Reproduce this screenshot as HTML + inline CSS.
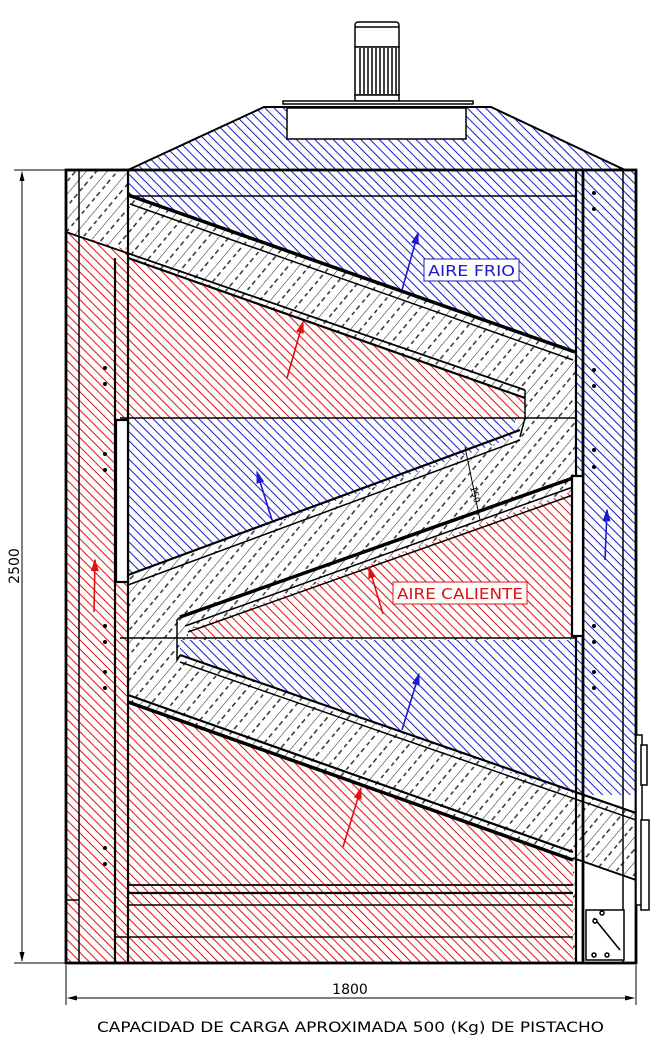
<!DOCTYPE html>
<html><head><meta charset="utf-8"><style>
html,body{margin:0;padding:0;background:#fff}
svg{display:block}
text{font-family:"DejaVu Sans","Liberation Sans",sans-serif}
</style></head><body>
<svg width="668" height="1040" viewBox="0 0 668 1040" xmlns="http://www.w3.org/2000/svg">
<defs>
<pattern id="red" width="6.5" height="6.5" patternUnits="userSpaceOnUse" patternTransform="rotate(-45)">
<rect width="6.5" height="6.5" fill="#fff"/><line x1="0" y1="0" x2="0" y2="6.5" stroke="#e01010" stroke-width="2"/></pattern>
<pattern id="blue" width="6.5" height="6.5" patternUnits="userSpaceOnUse" patternTransform="rotate(-45)">
<rect width="6.5" height="6.5" fill="#fff"/><line x1="0" y1="0" x2="0" y2="6.5" stroke="#1a1ad0" stroke-width="2"/></pattern>
<pattern id="gray" width="16" height="16" patternUnits="userSpaceOnUse" patternTransform="rotate(40)">
<rect width="16" height="16" fill="#fff"/><line x1="0" y1="0" x2="0" y2="16" stroke="#222" stroke-width="1"/>
<line x1="8" y1="3" x2="8" y2="8" stroke="#222" stroke-width="1.4"/><line x1="8" y1="11" x2="8" y2="15" stroke="#222" stroke-width="1.4"/></pattern>
<marker id="ab" markerWidth="8" markerHeight="8" refX="7" refY="4" orient="auto"><path d="M0,1.5 L8,4 L0,6.5z" fill="#1a1ad0"/></marker>
<marker id="ar" markerWidth="8" markerHeight="8" refX="7" refY="4" orient="auto"><path d="M0,1.5 L8,4 L0,6.5z" fill="#e01010"/></marker>
<marker id="ak" markerWidth="10" markerHeight="8" refX="9" refY="4" orient="auto"><path d="M0,1.5 L10,4 L0,6.5z" fill="#000"/></marker>
<marker id="aks" markerWidth="10" markerHeight="8" refX="1" refY="4" orient="auto"><path d="M10,1.5 L0,4 L10,6.5z" fill="#000"/></marker>
</defs>

<!-- motor -->
<rect x="355" y="22" width="44" height="6" rx="3" fill="#fff" stroke="#000" stroke-width="1.5"/>
<rect x="355" y="27" width="44" height="20" fill="#fff" stroke="#000" stroke-width="1.5"/>
<rect x="355" y="47" width="44" height="48" fill="#fff" stroke="#000" stroke-width="1.5"/>
<g stroke="#000" stroke-width="1.5">
<line x1="360" y1="48" x2="360" y2="94"/><line x1="364" y1="48" x2="364" y2="94"/><line x1="368" y1="48" x2="368" y2="94"/><line x1="372" y1="48" x2="372" y2="94"/><line x1="376" y1="48" x2="376" y2="94"/><line x1="380" y1="48" x2="380" y2="94"/><line x1="384" y1="48" x2="384" y2="94"/><line x1="388" y1="48" x2="388" y2="94"/><line x1="392" y1="48" x2="392" y2="94"/><line x1="396" y1="48" x2="396" y2="94"/></g>
<rect x="355" y="95" width="44" height="6" fill="#fff" stroke="#000" stroke-width="1.5"/>
<rect x="283" y="101" width="190" height="3" fill="#fff" stroke="#000" stroke-width="1.5"/>

<!-- hood -->
<polygon points="128,170 264,107 491,107 625,170" fill="url(#blue)" stroke="#000" stroke-width="2"/>
<rect x="287" y="108" width="179" height="31" fill="#fff" stroke="#000" stroke-width="1.5"/>

<rect x="128" y="170" width="448" height="793" fill="url(#gray)"/>
<polygon points="128,170 576,170 576,352 128,195" fill="url(#blue)"/>
<polygon points="128,258 525,398 525,418 128,418" fill="url(#red)"/>
<polygon points="128,418 515,418 515,437 128,575" fill="url(#blue)"/>
<polygon points="188,630 576,490 576,638 188,638" fill="url(#red)"/>
<polygon points="180,640 576,640 576,795 180,655" fill="url(#blue)"/>
<polygon points="128,700 573,860 573,963 128,963" fill="url(#red)"/>

<rect x="66" y="170" width="62" height="793" fill="url(#red)"/>
<polygon points="66,170 128,170 128,250 66,232" fill="url(#gray)"/>
<rect x="576" y="170" width="60" height="625" fill="url(#blue)"/>
<polygon points="573,792 636,813 636,880 573,858" fill="url(#gray)"/>
<rect x="576" y="880" width="60" height="83" fill="#fff"/>

<g stroke="#000" fill="none">
<line x1="128" y1="195" x2="575" y2="352" stroke-width="3.5"/>
<line x1="130" y1="204" x2="573" y2="360" stroke-width="1.5"/>
<line x1="66" y1="232" x2="525" y2="390" stroke-width="1.8"/>
<line x1="128" y1="258" x2="525" y2="398" stroke-width="2.2"/>
<polyline points="525,390 525,418 520,437" stroke-width="1.5"/>
<line x1="128" y1="196" x2="576" y2="196" stroke-width="1.5"/>
<line x1="120" y1="418" x2="576" y2="418" stroke-width="1.5"/>
<line x1="128" y1="575" x2="520" y2="430" stroke-width="2.2"/>
<line x1="128" y1="585" x2="520" y2="440" stroke-width="1.5"/>
<line x1="180" y1="617" x2="573" y2="478" stroke-width="3.5"/>
<line x1="185" y1="626" x2="573" y2="487" stroke-width="1.5"/>
<line x1="188" y1="632" x2="573" y2="495" stroke-width="1.5"/>
<polyline points="180,617 177,620 177,660 180,655" stroke-width="1.5"/>
<line x1="120" y1="638" x2="576" y2="638" stroke-width="1.5"/>
<line x1="180" y1="655" x2="636" y2="813" stroke-width="2.2"/>
<line x1="180" y1="662" x2="636" y2="820" stroke-width="1.5"/>
<line x1="128" y1="695" x2="573" y2="852" stroke-width="2.2"/>
<line x1="128" y1="702" x2="573" y2="860" stroke-width="3.5"/>
<line x1="573" y1="858" x2="636" y2="880" stroke-width="1.8"/>
<line x1="128" y1="885" x2="573" y2="885" stroke-width="1.8"/>
<line x1="128" y1="893" x2="573" y2="893" stroke-width="2.2"/>
<line x1="128" y1="905" x2="573" y2="905" stroke-width="1.5"/>
<line x1="115" y1="937" x2="573" y2="937" stroke-width="1.5"/>
<line x1="465" y1="447" x2="480" y2="520" stroke-width="1"/>
<rect x="66" y="170" width="570" height="793" stroke-width="2.8"/>
<line x1="128" y1="170" x2="128" y2="963" stroke-width="2.2"/>
<line x1="79" y1="170" x2="79" y2="963" stroke-width="1.5"/>
<line x1="115" y1="258" x2="115" y2="963" stroke-width="2.2"/>
<line x1="576" y1="170" x2="576" y2="963" stroke-width="2.2"/>
<line x1="583" y1="170" x2="583" y2="963" stroke-width="2.8"/>
<line x1="623" y1="170" x2="623" y2="963" stroke-width="1.5"/>
<line x1="66" y1="900" x2="79" y2="900" stroke-width="1.5"/>
</g>
<rect x="116" y="420" width="12" height="162" fill="#fff" stroke="#000" stroke-width="2.2"/>
<rect x="572" y="476" width="11" height="160" fill="#fff" stroke="#000" stroke-width="2.2"/>
<g fill="#fff" stroke="#000" stroke-width="1.5">
<rect x="636" y="735" width="6" height="170"/>
<rect x="641" y="745" width="6" height="40"/>
<rect x="641" y="820" width="8" height="90"/>
<rect x="586" y="910" width="38" height="50"/>
<line x1="594" y1="918" x2="620" y2="950"/>
<circle cx="595" cy="921" r="2"/><circle cx="594" cy="955" r="2"/><circle cx="607" cy="955" r="2"/><circle cx="602" cy="913" r="2"/>
</g>
<g fill="#000">
<circle cx="105" cy="368" r="2"/><circle cx="105" cy="384" r="2"/><circle cx="105" cy="454" r="2"/><circle cx="105" cy="470" r="2"/>
<circle cx="105" cy="626" r="2"/><circle cx="105" cy="642" r="2"/><circle cx="105" cy="672" r="2"/><circle cx="105" cy="688" r="2"/>
<circle cx="105" cy="848" r="2"/><circle cx="105" cy="864" r="2"/>
<circle cx="594" cy="193" r="2"/><circle cx="594" cy="209" r="2"/><circle cx="594" cy="370" r="2"/><circle cx="594" cy="386" r="2"/>
<circle cx="594" cy="450" r="2"/><circle cx="594" cy="467" r="2"/><circle cx="594" cy="626" r="2"/><circle cx="594" cy="642" r="2"/>
<circle cx="594" cy="672" r="2"/><circle cx="594" cy="688" r="2"/></g>
<g stroke-width="1.6" fill="none">
<line x1="402" y1="290" x2="418" y2="233" stroke="#1a1ad0" marker-end="url(#ab)"/>
<line x1="287" y1="378" x2="303" y2="322" stroke="#e01010" marker-end="url(#ar)"/>
<line x1="272" y1="520" x2="257" y2="472" stroke="#1a1ad0" marker-end="url(#ab)"/>
<line x1="383" y1="614" x2="369" y2="567" stroke="#e01010" marker-end="url(#ar)"/>
<line x1="605" y1="560" x2="607" y2="510" stroke="#1a1ad0" marker-end="url(#ab)"/>
<line x1="94" y1="612" x2="95" y2="560" stroke="#e01010" marker-end="url(#ar)"/>
<line x1="402" y1="730" x2="419" y2="674" stroke="#1a1ad0" marker-end="url(#ab)"/>
<line x1="343" y1="847" x2="361" y2="788" stroke="#e01010" marker-end="url(#ar)"/>
</g>
<rect x="424" y="259" width="95" height="22" fill="#fff" stroke="#1a1ad0" stroke-width="1"/>
<text x="428" y="276" font-size="15" fill="#1a1ad0" textLength="87" lengthAdjust="spacingAndGlyphs">AIRE FRIO</text>
<rect x="393" y="582" width="134" height="22" fill="#fff" stroke="#e01010" stroke-width="1"/>
<text x="397" y="599" font-size="15" fill="#e01010" textLength="126" lengthAdjust="spacingAndGlyphs">AIRE CALIENTE</text>
<text x="470" y="487" font-size="9" fill="#000" transform="rotate(75 470 487)">150</text>
<g stroke="#000" stroke-width="1">
<line x1="14" y1="170" x2="66" y2="170"/><line x1="14" y1="963" x2="66" y2="963"/>
<line x1="22" y1="172" x2="22" y2="961" marker-start="url(#aks)" marker-end="url(#ak)"/>
<line x1="66" y1="965" x2="66" y2="1005"/><line x1="636" y1="965" x2="636" y2="1005"/>
<line x1="68" y1="998" x2="634" y2="998" marker-start="url(#aks)" marker-end="url(#ak)"/>
</g>
<text x="19" y="566" font-size="14" text-anchor="middle" transform="rotate(-90 19 566)">2500</text>
<text x="350" y="994" font-size="14" text-anchor="middle">1800</text>
<text x="97" y="1032" font-size="14" textLength="507" lengthAdjust="spacingAndGlyphs">CAPACIDAD DE CARGA APROXIMADA 500 (Kg) DE PISTACHO</text>
</svg>
</body></html>
